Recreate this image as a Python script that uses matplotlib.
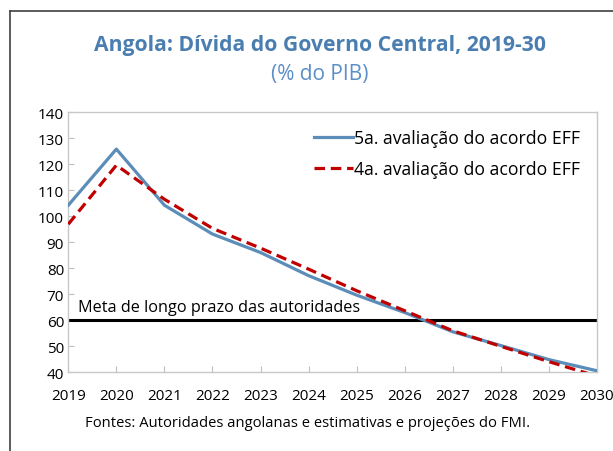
import matplotlib
matplotlib.use("Agg")
import matplotlib.pyplot as plt
from matplotlib.lines import Line2D

plt.rcParams['font.family'] = ['Open Sans', 'DejaVu Sans']

anos = [2019, 2020, 2021, 2022, 2023, 2024, 2025, 2026, 2027, 2028, 2029, 2030]
aval5 = [104.3, 125.9, 104.3, 93.2, 86.1, 77.2, 69.7, 63.0, 55.6, 50.3, 44.9, 40.6]
aval4 = [97.0, 119.7, 106.6, 95.4, 87.8, 79.7, 71.4, 63.7, 56.0, 50.0, 44.1, 38.5]
meta = 60
yticks = [40, 50, 60, 70, 80, 90, 100, 110, 120, 130, 140]

fig = plt.figure(figsize=(6.13, 4.52), dpi=100)
ax = fig.add_axes([0.1114, 0.174, 0.8626, 0.575])

ax.plot(anos, aval5, color='#5b8db8', lw=2.3, label='5a. avaliação do acordo EFF', zorder=3)
ax.plot(anos, aval4, color='#c00000', lw=2.3, dashes=(3.3, 1.8),
        label='4a. avaliação do acordo EFF', zorder=4)
ax.axhline(meta, color='black', lw=2.2, zorder=2)
ax.text(2019.2, meta + 1.9, 'Meta de longo prazo das autoridades', fontsize=11.7,
        va='bottom', ha='left')

ax.set_xlim(2019, 2030)
ax.set_ylim(40, 140)
ax.set_yticks(yticks)
ax.set_xticks(anos)
ax.tick_params(direction='in', length=4, color='#bfbfbf', labelsize=11)
ax.tick_params(axis='x', pad=11)
ax.tick_params(axis='y', pad=3)
for s in ax.spines.values():
    s.set_color('#c8c8c8')
    s.set_linewidth(1)

ax.legend(loc='upper right', frameon=False, fontsize=12.7, handlelength=2.2,
          handletextpad=0.1, borderaxespad=0.55, labelspacing=0.75)

fig.text(0.522, 0.90, 'Angola: Dívida do Governo Central, 2019-30', ha='center', va='center',
         fontsize=15.2, fontweight='bold', color='#4a7eb0')
fig.text(0.522, 0.836, '(% do PIB)', ha='center', va='center', fontsize=15, color='#5b8fc7')
fig.text(0.139, 0.064, 'Fontes: Autoridades angolanas e estimativas e projeções do FMI.',
         ha='left', va='center', fontsize=10.6)

# moldura exterior
fig.add_artist(Line2D([0.0155, 0.0155], [0.0, 0.973], color='#404040', lw=1.2))
fig.add_artist(Line2D([0.0155, 1.0], [0.973, 0.973], color='#404040', lw=1.2))

fig.savefig('out.png', dpi=100)
